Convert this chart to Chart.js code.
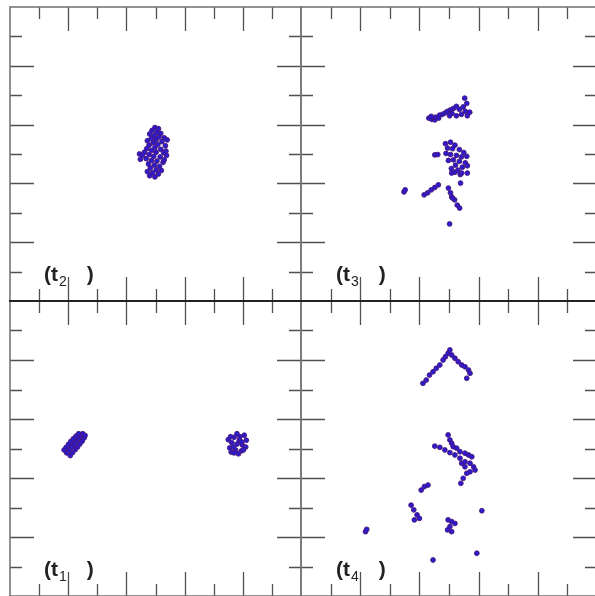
<!DOCTYPE html>
<html>
<head>
<meta charset="utf-8">
<script src="https://cdn.jsdelivr.net/npm/chart.js@4.4.1/dist/chart.umd.min.js"></script>
<style>
  body { margin: 0; background: #fff; width: 595px; height: 596px; overflow: hidden; position: relative; }
  canvas { position: absolute; }
  .tag {
    position: absolute;
    font-family: "Liberation Sans", Arial, sans-serif;
    font-weight: bold;
    font-size: 21px;
    line-height: 21px;
    color: #222;
    white-space: nowrap;
  }
  .tag sub { font-size: 14px; vertical-align: -5px; font-weight: normal; margin-left: 1px; }
  .tag .rp { margin-left: 20px; }
</style>
</head>
<body>
<canvas id="c_t2" width="293" height="296" style="left:9px;top:6px"></canvas>
<canvas id="c_t3" width="298" height="296" style="left:300px;top:6px"></canvas>
<canvas id="c_t1" width="293" height="297" style="left:9px;top:300px"></canvas>
<canvas id="c_t4" width="298" height="297" style="left:300px;top:300px"></canvas>

<div class="tag" style="left:44px;top:263px">(t<sub>2</sub><span class="rp">)</span></div>
<div class="tag" style="left:336px;top:263px">(t<sub>3</sub><span class="rp">)</span></div>
<div class="tag" style="left:44px;top:558px">(t<sub>1</sub><span class="rp">)</span></div>
<div class="tag" style="left:336px;top:558px">(t<sub>4</sub><span class="rp">)</span></div>

<script>
// particle positions at each time step, box is 0..10 on both axes
const t1X = [1.95, 2.07, 1.86, 2.03, 2.15, 1.93, 2.12, 2.24, 2.01, 2.20, 2.32, 2.09, 2.28, 2.40, 2.18, 2.36, 2.48, 2.27, 2.45, 2.55, 2.36, 2.50, 2.58,
             7.80, 7.62, 7.98, 7.70, 7.90, 7.55, 7.75, 7.95, 8.10, 8.12, 7.80, 7.60, 7.68, 7.88, 7.50, 8.05, 7.85, 7.70, 8.02, 7.58, 7.96];
const t1Y = [4.85, 4.76, 4.95, 4.95, 4.86, 5.04, 5.05, 4.96, 5.14, 5.14, 5.05, 5.24, 5.24, 5.15, 5.33, 5.34, 5.25, 5.42, 5.43, 5.36, 5.50, 5.50, 5.44,
             5.15, 5.20, 5.12, 5.38, 5.40, 5.02, 4.95, 4.92, 5.05, 5.28, 5.50, 4.88, 5.05, 5.28, 5.30, 5.45, 4.82, 4.85, 4.95, 5.40, 5.22];

const t2X = [4.98, 5.10, 4.88, 5.05, 5.18, 4.80, 4.95, 5.12, 5.30, 4.85, 5.02, 4.72, 5.22, 4.92, 5.08, 4.78, 5.34, 4.98, 4.70, 5.18, 4.86, 5.02, 4.62,
             5.28, 4.45, 4.55, 4.78, 4.94, 5.16, 4.48, 4.68, 4.86, 5.05, 5.26, 4.76, 4.96, 5.14, 4.82, 5.02, 5.20, 4.72, 4.90, 5.10, 4.80, 4.98,
             5.40, 5.36, 5.30, 5.38];
const t2Y = [5.90, 5.86, 5.80, 5.74, 5.70, 5.68, 5.62, 5.58, 5.55, 5.52, 5.48, 5.45, 5.42, 5.38, 5.32, 5.30, 5.28, 5.22, 5.18, 5.16, 5.12, 5.06, 5.06,
             5.04, 5.00, 4.95, 4.98, 4.92, 4.90, 4.82, 4.84, 4.78, 4.76, 4.72, 4.66, 4.62, 4.58, 4.52, 4.46, 4.44, 4.40, 4.36, 4.32, 4.26, 4.22,
             5.48, 5.10, 4.80, 4.95];

const t3X = [4.32, 4.42, 4.52, 4.40, 4.55, 4.65, 4.68, 4.78, 4.88, 4.95, 5.05, 5.15, 5.10, 5.25, 5.35, 5.48, 5.55, 5.42, 5.25, 5.62, 5.70, 5.02, 5.60, 5.53,
             4.88, 5.05, 5.20, 4.95, 5.12, 5.35, 5.50, 4.90, 5.05, 5.25, 5.42, 5.60, 5.15, 5.35, 5.55, 4.98, 5.22, 5.45, 5.62, 5.08, 5.30, 4.52, 4.62, 5.38, 5.62, 5.39, 5.20, 5.09, 5.43,
             3.48, 3.52, 4.16, 4.28, 4.40, 4.52, 4.64, 4.98, 5.05, 5.09, 5.19, 5.12, 5.28, 5.36, 5.02];
const t3Y = [6.22, 6.18, 6.16, 6.28, 6.25, 6.22, 6.32, 6.35, 6.40, 6.45, 6.50, 6.55, 6.38, 6.62, 6.52, 6.60, 6.45, 6.35, 6.30, 6.30, 6.42, 6.30, 6.72, 6.90,
             5.35, 5.40, 5.30, 5.20, 5.18, 5.15, 5.05, 5.02, 4.98, 4.95, 4.90, 4.92, 4.80, 4.75, 4.70, 4.78, 4.62, 4.55, 4.60, 4.50, 4.45, 4.97, 4.98, 4.30, 4.35, 4.01, 4.38, 4.35, 4.35,
             3.71, 3.78, 3.61, 3.68, 3.78, 3.86, 3.95, 3.84, 3.68, 3.54, 3.44, 3.50, 3.26, 3.16, 2.62];

const t4X = [4.12, 4.23, 4.34, 4.46, 4.57, 4.69, 4.80, 4.88, 4.97, 5.03, 5.09, 5.20, 5.31, 5.43, 5.54, 5.66, 5.71, 5.60,
             4.97, 5.03, 5.09, 5.14, 5.26, 5.37, 5.54, 5.66, 5.77, 5.71, 5.83, 5.88, 5.71, 5.54, 5.43, 4.52, 4.69, 4.86, 5.03, 5.20, 5.37, 5.54, 5.60, 5.48, 5.40,
             4.06, 4.17, 4.29, 3.72, 3.81, 3.92, 3.83, 4.00, 6.11, 4.97, 5.09, 5.20, 5.03, 4.95, 5.09, 2.18, 2.22, 4.46, 5.94];
const t4Y = [7.21, 7.32, 7.49, 7.60, 7.72, 7.83, 8.00, 8.11, 8.23, 8.34, 8.17, 8.06, 7.94, 7.83, 7.77, 7.66, 7.55, 7.38,
             5.46, 5.29, 5.18, 5.06, 5.01, 4.89, 4.84, 4.78, 4.72, 4.50, 4.38, 4.27, 4.21, 4.38, 4.50, 5.08, 5.04, 4.95, 4.86, 4.78, 4.67, 4.55, 4.16, 3.99, 3.82,
             3.59, 3.71, 3.76, 3.08, 2.92, 2.75, 2.58, 2.63, 2.89, 2.58, 2.52, 2.46, 2.35, 2.24, 2.18, 2.18, 2.26, 1.22, 1.45];

const majorTicks = [2, 4, 6, 8];
const minorTicks = [1, 3, 5, 7, 9];

// box outline with inward ticks on all four sides
const boxFrame = {
    id: 'boxFrame',
    afterDraw(chart, args, opts) {
        const { ctx, chartArea: a } = chart;
        const xs = chart.scales.x, ys = chart.scales.y;
        ctx.save();
        ctx.strokeStyle = '#505050';
        ctx.lineWidth = 1.3;
        ctx.beginPath();
        const tick = (v, len) => {
            const px = Math.round(xs.getPixelForValue(v)) + 0.5;
            ctx.moveTo(px, a.top); ctx.lineTo(px, a.top + len);
            ctx.moveTo(px, a.bottom); ctx.lineTo(px, a.bottom - len);
            const py = Math.round(ys.getPixelForValue(v)) + 0.5;
            ctx.moveTo(a.left, py); ctx.lineTo(a.left + len, py);
            ctx.moveTo(a.right, py); ctx.lineTo(a.right - len, py);
        };
        majorTicks.forEach(v => tick(v, 24));
        minorTicks.forEach(v => tick(v, 12));
        ctx.stroke();

        ctx.strokeStyle = '#777';
        ctx.lineWidth = 1.6;
        ctx.strokeRect(a.left, a.top, a.right - a.left, a.bottom - a.top);
        if (opts.darkTop) {
            ctx.strokeStyle = '#222';
            ctx.lineWidth = 2;
            ctx.beginPath();
            ctx.moveTo(a.left - 1, a.top);
            ctx.lineTo(a.right + 1, a.top);
            ctx.stroke();
        }
        ctx.restore();
    }
};

function makePanel(id, xs, ys, darkTop) {
    const pts = xs.map((x, i) => ({ x: x, y: ys[i] }));
    return new Chart(document.getElementById(id), {
        type: 'scatter',
        data: {
            datasets: [{
                data: pts,
                pointRadius: 2.4,
                pointBackgroundColor: '#2c1ccf',
                pointBorderColor: '#4a1478',
                pointBorderWidth: 0.9
            }]
        },
        options: {
            responsive: false,
            animation: false,
            layout: { padding: 1, autoPadding: false },
            scales: {
                x: { type: 'linear', min: 0, max: 10, display: false },
                y: { type: 'linear', min: 0, max: 10, display: false }
            },
            plugins: {
                legend: { display: false },
                tooltip: { enabled: false },
                boxFrame: { darkTop: darkTop }
            }
        },
        plugins: [boxFrame]
    });
}

makePanel('c_t2', t2X, t2Y, false);
makePanel('c_t3', t3X, t3Y, false);
makePanel('c_t1', t1X, t1Y, true);
makePanel('c_t4', t4X, t4Y, true);
</script>
</body>
</html>
